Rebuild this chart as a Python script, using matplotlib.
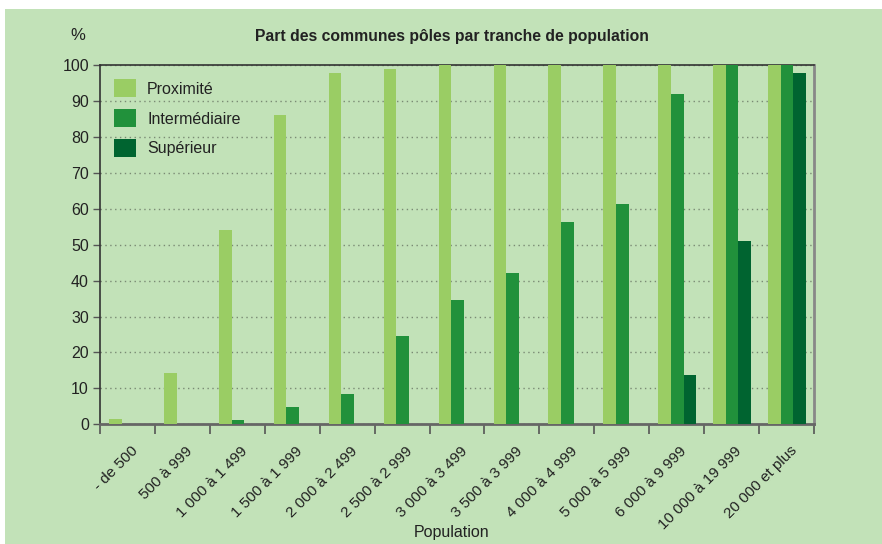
import numpy as np
import matplotlib
matplotlib.use('Agg')
import matplotlib.pyplot as plt
from matplotlib.patches import Rectangle, Patch
from matplotlib.transforms import ScaledTranslation

plt.rcParams['font.family'] = ['Liberation Sans Narrow', 'Liberation Sans', 'DejaVu Sans']

categories = ['- de 500', '500 à 999', '1 000 à 1 499', '1 500 à 1 999',
              '2 000 à 2 499', '2 500 à 2 999', '3 000 à 3 499', '3 500 à 3 999',
              '4 000 à 4 999', '5 000 à 5 999', '6 000 à 9 999',
              '10 000 à 19 999', '20 000 et plus']
proximite     = [1.5, 14.3, 54.0, 86.0, 97.7, 98.8, 100, 100, 100, 100, 100, 100, 100]
intermediaire = [0, 0, 1.2, 4.8, 8.5, 24.5, 34.7, 42.2, 56.2, 61.3, 92.0, 100, 100]
superieur     = [0, 0, 0, 0, 0, 0, 0, 0, 0, 0, 13.7, 51.0, 97.8]
series_names  = ['Proximité', 'Intermédiaire', 'Supérieur']

BG = '#C2E2B8'
COLORS = ['#9ACD64', '#21913B', '#006430']
TXT = '#222222'

W, H = 882, 544
fig = plt.figure(figsize=(W / 100, H / 100), dpi=100, facecolor='white')
# green panel (white margin top/left as in the source)
fig.patches.append(Rectangle((5 / W, 0), 1 - 5 / W, (H - 9) / H,
                             transform=fig.transFigure, facecolor=BG,
                             edgecolor='none', zorder=-5))

ax = fig.add_axes([100 / W, (H - 424.3) / H, 714 / W, (424.3 - 65) / H])
ax.set_facecolor(BG)

x = np.arange(len(categories))
bw = 0.23
for i, (vals, col) in enumerate(zip([proximite, intermediaire, superieur], COLORS)):
    ax.bar(x + (i - 1) * bw + 0.01, vals, width=bw, color=col, zorder=3,
           linewidth=0)

ax.set_xlim(-0.5, len(categories) - 0.5)
ax.set_ylim(0, 100)
ax.set_yticks(np.arange(0, 101, 10))
ax.yaxis.grid(True, linestyle=(0, (1, 2.5)), color='#7a8a74', linewidth=1.0, zorder=1)
ax.set_axisbelow(True)

# category boundary ticks, labels centred
ax.set_xticks(np.arange(-0.5, len(categories)), minor=True)
ax.set_xticks(x)
ax.tick_params(axis='x', which='minor', length=7, width=1.2, color='#555555', direction='out')
ax.tick_params(axis='x', which='major', length=0, pad=14)
ax.set_xticklabels(categories, rotation=45, ha='right', va='top',
                   rotation_mode='anchor', fontsize=11, color=TXT)
offset = ScaledTranslation(3 / 100, 0, fig.dpi_scale_trans)
for lbl in ax.get_xticklabels():
    lbl.set_transform(lbl.get_transform() + offset)

ax.tick_params(axis='y', length=5, width=1.0, color='#555555', labelsize=11.5,
               labelcolor=TXT, pad=3)

for side in ['left', 'bottom', 'top']:
    ax.spines[side].set_color('#333333')
    ax.spines[side].set_linewidth(1.2)
ax.spines['bottom'].set_color('#666666')
ax.spines['bottom'].set_linewidth(2)
ax.spines['right'].set_color('#888888')
ax.spines['right'].set_linewidth(2)

handles = [Patch(facecolor=c, edgecolor='none') for c in COLORS]
ax.legend(handles, series_names, loc='upper left', frameon=False,
          fontsize=11.5, handlelength=1.35, handleheight=1.35, labelspacing=0.75,
          handletextpad=0.7, borderaxespad=0.0, bbox_to_anchor=(8 / 714, 1 - 8 / 359.3),
          labelcolor=TXT)

fig.text(452 / W, 1 - 37 / H, 'Part des communes pôles par tranche de population',
         ha='center', va='center', fontsize=11.3, fontweight='bold', color=TXT)
fig.text(78 / W, 1 - 35 / H, '%', ha='center', va='center', fontsize=12, color=TXT)
fig.text(452 / W, 1 - 533 / H, 'Population', ha='center', va='center',
         fontsize=11.5, color=TXT)

fig.savefig('out.png', dpi=100, facecolor='white')
